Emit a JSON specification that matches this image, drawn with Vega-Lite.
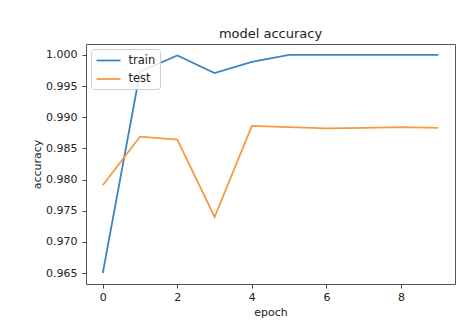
{
  "$schema": "https://vega.github.io/schema/vega-lite/v6.json",
  "width": 369,
  "height": 240,
  "autosize": "none",
  "padding": {"left": 86, "top": 44, "right": 6, "bottom": 50},
  "background": "white",
  "title": {"text": "model accuracy", "fontSize": 13, "font": "DejaVu Sans", "fontWeight": "normal", "color": "#222222", "offset": 3, "anchor": "middle"},
  "data": {
    "values": [
      {"epoch": 0, "acc": 0.965, "series": "train"},
      {"epoch": 1, "acc": 0.9973, "series": "train"},
      {"epoch": 2, "acc": 0.9999, "series": "train"},
      {"epoch": 3, "acc": 0.9971, "series": "train"},
      {"epoch": 4, "acc": 0.9989, "series": "train"},
      {"epoch": 5, "acc": 1.0, "series": "train"},
      {"epoch": 6, "acc": 1.0, "series": "train"},
      {"epoch": 7, "acc": 1.0, "series": "train"},
      {"epoch": 8, "acc": 1.0, "series": "train"},
      {"epoch": 9, "acc": 1.0, "series": "train"},
      {"epoch": 0, "acc": 0.9791, "series": "test"},
      {"epoch": 1, "acc": 0.9869, "series": "test"},
      {"epoch": 2, "acc": 0.9864, "series": "test"},
      {"epoch": 3, "acc": 0.974, "series": "test"},
      {"epoch": 4, "acc": 0.9886, "series": "test"},
      {"epoch": 5, "acc": 0.9884, "series": "test"},
      {"epoch": 6, "acc": 0.9882, "series": "test"},
      {"epoch": 7, "acc": 0.9883, "series": "test"},
      {"epoch": 8, "acc": 0.9884, "series": "test"},
      {"epoch": 9, "acc": 0.9883, "series": "test"}
    ]
  },
  "mark": {"type": "line", "strokeWidth": 1.8},
  "encoding": {
    "x": {
      "field": "epoch", "type": "quantitative",
      "scale": {"domain": [-0.45, 9.45], "nice": false, "zero": false},
      "axis": {"values": [0, 2, 4, 6, 8], "title": "epoch", "titlePadding": 4}
    },
    "y": {
      "field": "acc", "type": "quantitative",
      "scale": {"domain": [0.96325, 1.00175], "nice": false, "zero": false},
      "axis": {"values": [0.965, 0.97, 0.975, 0.98, 0.985, 0.99, 0.995, 1.0], "format": ".3f", "title": "accuracy", "titlePadding": 3}
    },
    "color": {
      "field": "series", "type": "nominal",
      "scale": {"domain": ["train", "test"], "range": ["#3f84bb", "#f59b3c"]},
      "legend": {
        "title": null,
        "orient": "top-left",
        "offset": 5,
        "padding": 4.5,
        "fillColor": "rgba(255,255,255,0.85)",
        "strokeColor": "#d0d0d0",
        "cornerRadius": 3,
        "symbolType": "M-1,0H3",
        "symbolSize": 144,
        "symbolStrokeWidth": 1.8,
        "labelOffset": 19,
        "rowPadding": 5.5,
        "labelFontSize": 11.5,
        "labelFont": "DejaVu Sans",
        "labelColor": "#222222"
      }
    }
  },
  "config": {
    "view": {"stroke": "#555555", "strokeWidth": 1},
    "axis": {
      "grid": false,
      "domain": false,
      "tickSize": 4,
      "tickColor": "#444444",
      "labelFont": "DejaVu Sans",
      "labelFontSize": 11,
      "labelColor": "#222222",
      "titleFont": "DejaVu Sans",
      "titleFontSize": 11,
      "titleFontWeight": "normal",
      "titleColor": "#222222"
    },
    "axisX": {"labelPadding": 3},
    "axisY": {"labelPadding": 5}
  }
}
